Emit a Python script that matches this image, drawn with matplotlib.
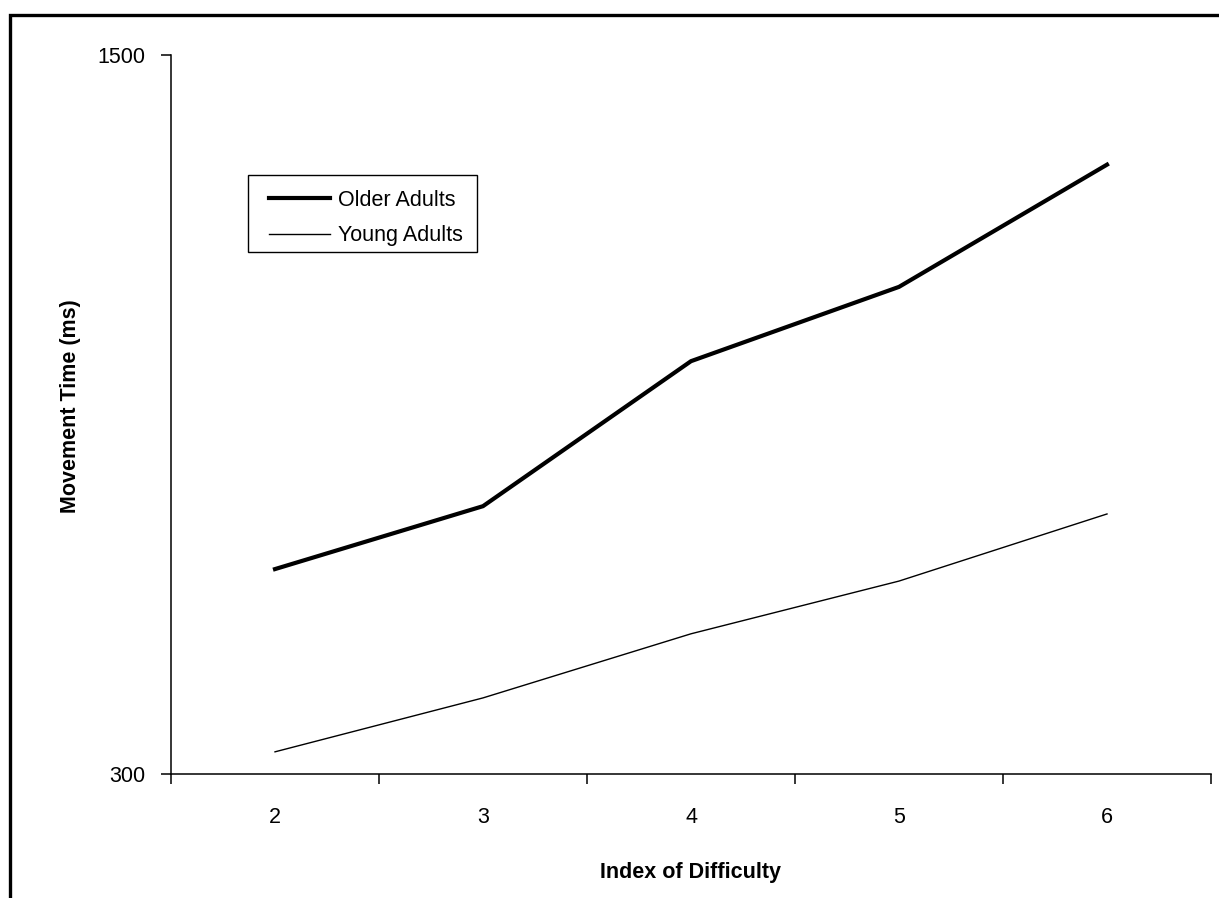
import matplotlib
matplotlib.use('Agg')
import matplotlib.pyplot as plt
from matplotlib.patches import Rectangle

plt.rcParams['font.family'] = ['Liberation Sans', 'DejaVu Sans']

# data
difficulty = [2, 3, 4, 5, 6]
older_adults = [642, 747, 989, 1113, 1317]
young_adults = [337, 427, 534, 622, 734]

W, H = 1219, 898
FS = 15.5
fig = plt.figure(figsize=(W / 100, H / 100), dpi=100)
ax = fig.add_axes([171 / W, 1 - 774 / H, (1211 - 171) / W, (774 - 55) / H])

ax.plot(difficulty, older_adults, color='black', lw=3.0, label='Older Adults',
        solid_joinstyle='miter')
ax.plot(difficulty, young_adults, color='black', lw=1.0, label='Young Adults')

ax.set_xlim(1.5, 6.5)
ax.set_ylim(300, 1500)

# category boundaries get tick marks, category centres get labels
ax.set_xticks([x - 0.5 for x in difficulty] + [difficulty[-1] + 0.5])
ax.set_xticklabels([])
ax.set_xticks(difficulty, minor=True)
ax.set_xticklabels([str(d) for d in difficulty], minor=True)
ax.tick_params(axis='x', which='major', direction='out', length=7.5, width=1.1)
ax.tick_params(axis='x', which='minor', length=0, pad=24, labelsize=FS)
ax.set_yticks([300, 1500])
ax.tick_params(axis='y', direction='out', length=7.5, width=1.1, pad=11, labelsize=FS)

for s in ['top', 'right']:
    ax.spines[s].set_visible(False)
for s in ['left', 'bottom']:
    ax.spines[s].set_linewidth(1.1)

ax.set_xlabel('Index of Difficulty', fontsize=FS, fontweight='bold', labelpad=24)
ax.set_ylabel('Movement Time (ms)', fontsize=FS, fontweight='bold', labelpad=12)
ax.yaxis.label.set_y(0.512)

# legend content without its own frame; the box is drawn separately
leg = ax.legend(loc='upper left', bbox_to_anchor=(269 / W, 1 - 190 / H),
                bbox_transform=fig.transFigure, fontsize=FS, frameon=False,
                handlelength=2.85, handletextpad=0.35, labelspacing=0.66,
                borderpad=0, borderaxespad=0)
fig.patches.append(Rectangle((248 / W, 1 - 252 / H), (477 - 248) / W, (252 - 175) / H,
                             transform=fig.transFigure, fill=False,
                             edgecolor='black', lw=1.0))

# outer frame, open at the right and bottom edges
fig.patches.append(Rectangle((10 / W, -0.1), 1.2, 0.1 + 1 - 15 / H,
                             transform=fig.transFigure, fill=False,
                             edgecolor='black', lw=2.4))

fig.savefig('out.png', dpi=100)
